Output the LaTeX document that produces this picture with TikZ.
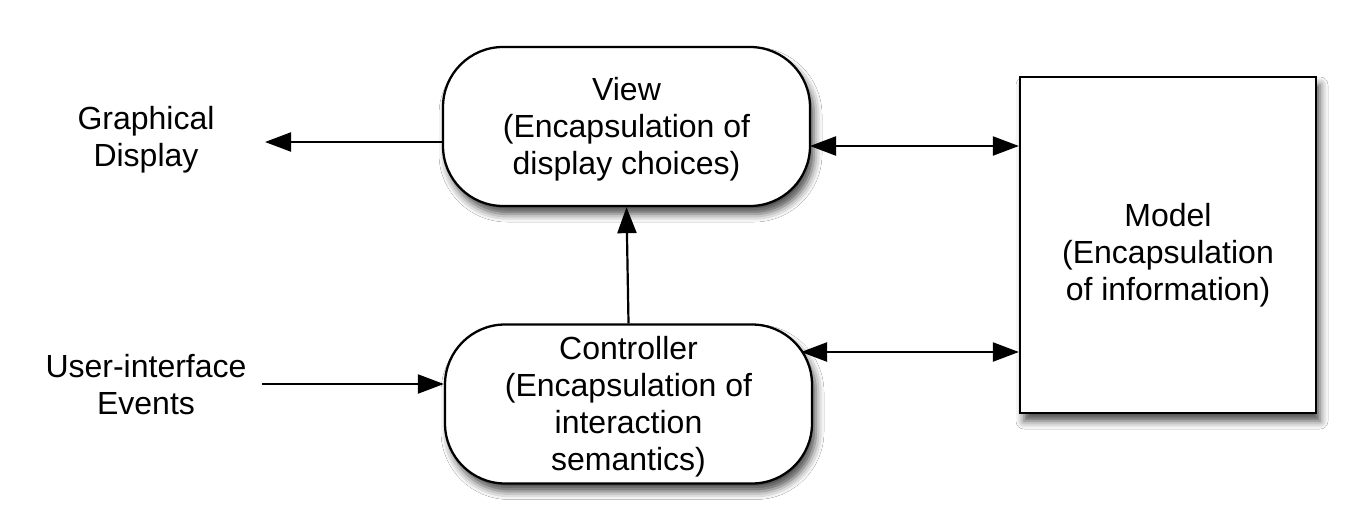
\documentclass[tikz,border=0pt]{standalone}
\usepackage{fontspec}
\setmainfont{Liberation Sans}
\usetikzlibrary{arrows.meta,shadows.blur}
\begin{document}
\begin{tikzpicture}[x=1pt,y=-1pt,
  txt/.style={align=center, font=\fontsize{32}{37}\selectfont, inner sep=0pt},
  box/.style={txt, draw, line width=2.3pt, fill=white,
    blur shadow={shadow xshift=4pt, shadow yshift=-8pt, shadow blur radius=8pt, shadow opacity=70}},
  pill/.style={box, rounded corners=60pt, minimum width=367pt, minimum height=159pt},
  arr/.style={line width=2.2pt, -{Triangle[length=26pt,width=19pt]}},
  dbl/.style={line width=2.2pt, {Triangle[length=26pt,width=19pt]}-{Triangle[length=26pt,width=19pt]}}
]
\useasboundingbox[fill=white] (0,0) rectangle (1372,528);
\node[pill] (view) at (626.5,126.5) {\rule{0pt}{28pt}View\\(Encapsulation of\\display choices)};
\node[pill] (ctrl) at (628.5,404) {\rule{0pt}{28pt}Controller\\(Encapsulation of\\interaction\\semantics)};
\node[box, minimum width=296pt, minimum height=336pt,
  label={[txt, yshift=-10pt]center:{Model\\(Encapsulation\\of information)}}] (model) at (1168,245) {};
\node[txt] (gd) at (146,140) {Graphical\\Display};
\node[txt] (ui) at (146,385) {User-interface\\Events};
\coordinate (gdtip) at (265,142);
\coordinate (uistart) at (262,384);
\coordinate (vm) at (810,146);
\coordinate (cm) at (801,352);
\draw[arr] (gdtip -| view.west) -- (gdtip);
\draw[arr] (uistart) -- (uistart -| ctrl.west);
\draw[dbl] (vm) -- (vm -| model.west);
\draw[dbl] (cm) -- (cm -| model.west);
\draw[arr] (ctrl.north) -- (view.south);
\end{tikzpicture}
\end{document}
